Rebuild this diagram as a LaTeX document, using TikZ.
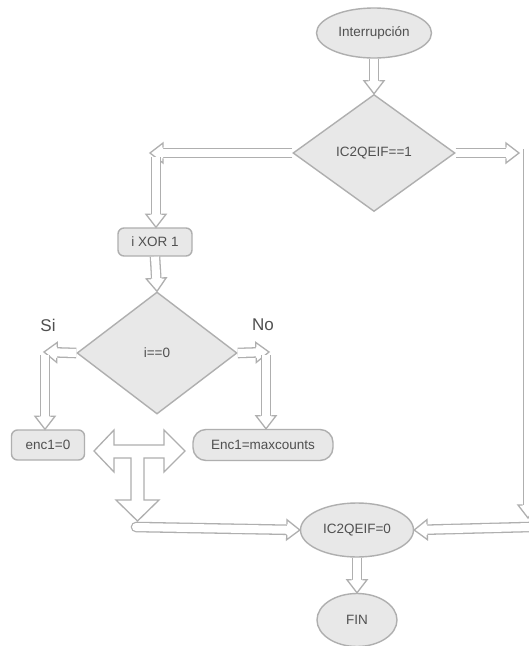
\documentclass[tikz,border=0pt]{standalone}
\usepackage{fontspec}
\setmainfont{Liberation Sans}
\usetikzlibrary{shapes.geometric}
\definecolor{edge}{RGB}{175,175,175}
\definecolor{boxfill}{RGB}{232,232,232}
\definecolor{txt}{RGB}{80,80,80}
\tikzset{
  base/.style={draw=edge, fill=boxfill, line width=1.4pt, text=txt, inner sep=0pt,
    font=\fontsize{13.5}{16}\selectfont},
  oval/.style={base, ellipse},
  dia/.style={base, diamond},
  proc/.style={base, rectangle},
  lbl/.style={text=txt, font=\fontsize{17}{20}\selectfont},
  shaft/.style={draw=edge, double=white, double distance=8pt, line width=1.3pt},
  bhead/.pic={
    \fill[white] (0,0) -- (-13,10) -- (-13,-10) -- cycle;
    \draw[edge, line width=1.3pt, line join=miter] (-13,5.4) -- (-13,10) -- (0,0) -- (-13,-10) -- (-13,-5.4);
  },
}
\newcommand\barrow[3][]{%
  \draw[shaft, shorten >=12pt, #1] #2 -- #3;
  \path #2 -- #3 pic[pos=1, sloped, allow upside down]{bhead};}
\begin{document}
\begin{tikzpicture}[x=1pt, y=-1pt]
\clip (0,0) rectangle (529,646);
\fill[white] (0,0) rectangle (529,646);

% nodes
\node[oval, minimum width=115pt, minimum height=50pt] (int) at (374,33) {Interrupción};
\node[dia, minimum width=162pt, minimum height=117pt] (d1) at (374,153) {IC2QEIF==1};
\node[proc, rounded corners=6pt, minimum width=74pt, minimum height=28pt] (xor) at (155,242) {i XOR 1};
\node[dia, minimum width=160pt, minimum height=122pt] (d2) at (157,353) {i==0};
\node[proc, rounded corners=6pt, minimum width=73pt, minimum height=30pt] (enc) at (48,445) {enc1=0};
\node[proc, rounded corners=13pt, minimum width=140pt, minimum height=31pt] (encm) at (263,445) {Enc1=maxcounts};
\node[oval, minimum width=113pt, minimum height=54pt] (ic0) at (357,530) {IC2QEIF=0};
\node[oval, minimum width=80pt, minimum height=53pt] (fin) at (357,620) {FIN};

\node[lbl] (si) at (48,325) {Si};
\node[lbl] (no) at (263,325) {No};

% helper coordinates
\coordinate (c1) at (150,153);
\coordinate (c1b) at (156,157);
\coordinate (c2) at (44,352);
\coordinate (c2b) at (45,355);
\coordinate (c3) at (269,352);
\coordinate (c3b) at (266,355);
\coordinate (c4) at (519,153);
\coordinate (c4b) at (528,149);
\coordinate (c5) at (528,518);
\coordinate (c5b) at (530,527);
\coordinate (c6) at (136,527);

% connectors
\barrow{(int.south)}{(d1.north)}
\barrow{(d1.west)}{(c1)}
\barrow{(c1b)}{(c1b |- xor.north)}
\barrow{(xor.south)}{(d2.north)}
\barrow{(d2.west)}{(c2)}
\barrow{(c2b)}{(c2b |- enc.north)}
\barrow{(d2.east)}{(c3)}
\barrow{(c3b)}{(c3b |- encm.north)}
\barrow{(d1.east)}{(c4)}
\barrow{(c4b)}{(c5)}
\barrow{(c5b)}{(ic0.east)}
\barrow[line cap=round]{(c6)}{(ic0.west)}
\barrow{(ic0.south)}{(fin.north)}

% T-shaped block arrow
\draw[edge, fill=white, line width=1.3pt, line join=miter]
  (94,451) -- (114,430) -- (114,445) -- (164,445) -- (164,430) -- (185,451)
  -- (164,472) -- (164,458) -- (144,458) -- (144,500) -- (159,500) -- (137.5,521)
  -- (116,500) -- (131,500) -- (131,458) -- (114,458) -- (114,472) -- cycle;
\end{tikzpicture}
\end{document}
